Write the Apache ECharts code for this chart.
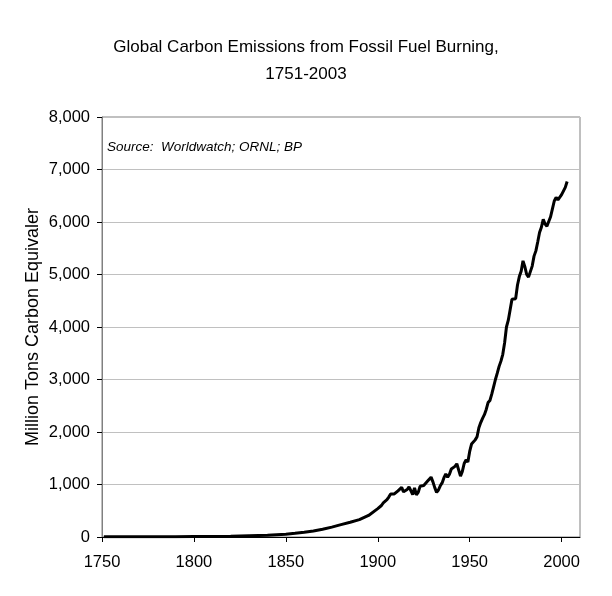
<!DOCTYPE html>
<html>
<head>
<meta charset="utf-8">
<script src="https://cdn.jsdelivr.net/npm/echarts@6/dist/echarts.min.js"></script>
<style>
  html, body { margin: 0; padding: 0; background: #fff; }
  #main { width: 612px; height: 596px; }
</style>
</head>
<body>
<div id="main"></div>
<script>
// sparse points for the smooth early years, yearly from 1900 on
const earlyYears = [1751, 1760, 1770, 1780, 1790, 1800, 1810, 1820, 1830, 1840,
  1850, 1855, 1860, 1865, 1870, 1875, 1880, 1885, 1890, 1895];
const earlyValues = [3, 3, 3, 4, 6, 8, 10, 14, 24, 33,
  54, 70, 91, 115, 147, 188, 235, 280, 330, 410];

const lateValues = [
  // 1900-1909
  540, 570, 600, 650, 670, 710, 760, 820, 790, 820,
  // 1910-1919
  850, 880, 910, 945, 860, 845, 905, 955, 935, 810,
  // 1920-1929
  935, 805, 850, 965, 965, 980, 990, 1060, 1070, 1140,
  // 1930-1939
  1050, 940, 850, 895, 975, 1030, 1130, 1200, 1140, 1195,
  // 1940-1949
  1295, 1330, 1345, 1395, 1380, 1160, 1250, 1400, 1470, 1430,
  // 1950-1959
  1630, 1770, 1800, 1850, 1910, 2080, 2180, 2260, 2330, 2430,
  // 1960-1969
  2560, 2600, 2720, 2860, 3000, 3120, 3250, 3350, 3480, 3700,
  // 1970-1979
  4000, 4130, 4330, 4530, 4520, 4540, 4800, 4960, 5060, 5260,
  // 1980-1989
  5150, 5000, 4950, 4980, 5160, 5350, 5450, 5620, 5800, 5900,
  // 1990-1999
  6050, 5960, 5920, 5950, 6100, 6250, 6400, 6470, 6420, 6400,
  // 2000-2003
  6520, 6550, 6660, 6770
];
const lateYears = lateValues.map((_, i) => 1900 + i);

const years = earlyYears.concat(lateYears);
const emissions = earlyValues.concat(lateValues);

const xTicks = [1750, 1800, 1850, 1900, 1950, 2000];
const yTicks = [0, 1000, 2000, 3000, 4000, 5000, 6000, 7000, 8000];

const titleText = "Global Carbon Emissions from Fossil Fuel Burning,\n1751-2003";
const sourceText = "Source:  Worldwatch; ORNL; BP";
const yName = "Million Tons Carbon Equivaler";

const chart = echarts.init(document.getElementById("main"));
const font = "Arial, 'Liberation Sans', sans-serif";

chart.setOption({
  animation: false,
  backgroundColor: "#fff",
  title: {
    text: titleText,
    left: "center",
    top: 29,
    textStyle: {
      fontFamily: font,
      fontSize: 17,
      fontWeight: "normal",
      color: "#000",
      lineHeight: 27,
    },
  },
  graphic: [{
    type: "text",
    left: 107,
    top: 140,
    style: {
      text: sourceText,
      font: "italic 13.5px " + font,
      fill: "#000",
    },
  }],
  grid: {
    left: 102,
    right: 32,
    top: 117,
    bottom: 59,
    show: true,
    borderColor: "#808080",
    borderWidth: 1,
  },
  xAxis: {
    type: "value",
    min: 1750,
    max: 2010,
    interval: 50,
    axisLine: { show: true, lineStyle: { color: "#000", width: 1 } },
    axisTick: { show: true, length: 5, lineStyle: { color: "#000" } },
    splitLine: { show: false },
    axisLabel: {
      showMaxLabel: false,
      margin: 17,
      fontFamily: font,
      fontSize: 16.5,
      color: "#000",
      formatter: (v) => (xTicks.includes(v) ? String(v) : ""),
    },
  },
  yAxis: {
    type: "value",
    min: yTicks[0],
    max: yTicks[yTicks.length - 1],
    interval: 1000,
    name: yName,
    nameLocation: "middle",
    nameRotate: 90,
    nameGap: 60,
    nameMoveOverlap: false,
    nameTextStyle: { fontFamily: font, fontSize: 18, color: "#000" },
    axisLine: { show: true, lineStyle: { color: "#808080", width: 1 } },
    axisTick: { show: true, length: 5, lineStyle: { color: "#000" } },
    splitLine: { show: true, lineStyle: { color: "#c0c0c0", width: 1 } },
    axisLabel: {
      margin: 12,
      fontFamily: font,
      fontSize: 16.5,
      color: "#000",
      formatter: (v) => v.toLocaleString("en-US"),
    },
  },
  series: [{
    type: "line",
    data: years.map((y, i) => [y, emissions[i]]),
    showSymbol: false,
    lineStyle: { color: "#000", width: 3 },
  }],
});
</script>
</body>
</html>
